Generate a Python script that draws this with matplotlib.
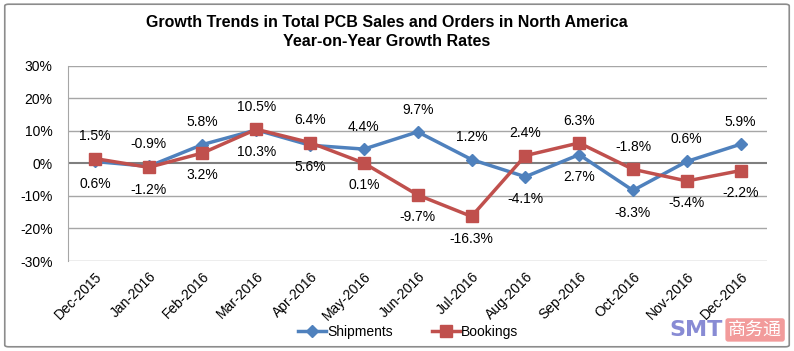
import matplotlib.pyplot as plt
from matplotlib.patches import FancyBboxPatch

plt.rcParams['font.family'] = ['Liberation Sans', 'DejaVu Sans']

months = ['Dec-2015', 'Jan-2016', 'Feb-2016', 'Mar-2016', 'Apr-2016', 'May-2016', 'Jun-2016',
          'Jul-2016', 'Aug-2016', 'Sep-2016', 'Oct-2016', 'Nov-2016', 'Dec-2016']
shipments = [0.6, -0.9, 5.8, 10.3, 5.6, 4.4, 9.7, 1.2, -4.1, 2.7, -8.3, 0.6, 5.9]
bookings = [1.5, -1.2, 3.2, 10.5, 6.4, 0.1, -9.7, -16.3, 2.4, 6.3, -1.8, -5.4, -2.2]
yticks = [-30, -20, -10, 0, 10, 20, 30]

blue = '#4F81BD'
red = '#C0504D'

fig = plt.figure(figsize=(7.94, 3.51), dpi=100)
ax = fig.add_axes([0.0856, 0.2564, 0.881, 0.556])

x = list(range(len(months)))
ax.plot(x, shipments, color=blue, lw=2.5, marker='D', ms=6, label='Shipments', zorder=3)
ax.plot(x, bookings, color=red, lw=2.5, marker='s', ms=8, label='Bookings', zorder=3)

# labels: larger value above, smaller below
for i in x:
    s, b = shipments[i], bookings[i]
    for v, other in ((s, b), (b, s)):
        up = v > other
        ax.annotate(f'{v:.1f}%', (i, v), xytext=(0, 11 if up else -11),
                    textcoords='offset points', ha='center',
                    va='bottom' if up else 'top', fontsize=10, zorder=4)

ax.set_xlim(-0.5, len(months) - 0.5)
ax.set_ylim(-30, 30)
ax.set_yticks(yticks)
ax.set_yticklabels([f'{t}%' for t in yticks], fontsize=10)
ax.set_xticks(x)
ax.set_xticklabels(months, rotation=45, ha='right', rotation_mode='anchor', fontsize=10)
ax.tick_params(axis='x', length=0, pad=6)
ax.tick_params(axis='y', length=0, pad=11)
for t in yticks:
    ax.axhline(t, color='#7f7f7f' if t == 0 else '#a6a6a6', lw=1.5 if t == 0 else 1, zorder=1)
for sp in ['top', 'right', 'bottom']:
    ax.spines[sp].set_visible(False)
ax.spines['left'].set_color('#a6a6a6')

fig.text(0.487, 0.935, 'Growth Trends in Total PCB Sales and Orders in North America',
         ha='center', va='center', fontsize=11.5, fontweight='bold')
fig.text(0.487, 0.882, 'Year-on-Year Growth Rates', ha='center', va='center',
         fontsize=11.5, fontweight='bold')

fig.legend(loc='center', bbox_to_anchor=(0.514, 0.055), ncol=2, frameon=False,
           fontsize=10, handlelength=2.0, columnspacing=2.8, handletextpad=0.1)

# border
fig.patches.append(FancyBboxPatch((0.006, 0.012), 0.988, 0.976, boxstyle='round,pad=0,rounding_size=0.005',
                                  transform=fig.transFigure, fill=False, ec='#8c8c8c', lw=1.2))

# watermark
fig.text(0.877, 0.06, 'SMT', color='#7b7fd0', fontsize=16, fontweight='bold',
         ha='center', va='center', alpha=0.9, family=['DejaVu Sans Condensed', 'DejaVu Sans'])
fig.text(0.951, 0.06, '商务通', color='white', fontsize=13,
         family=['Noto Sans CJK SC'], ha='center', va='center',
         bbox=dict(boxstyle='round,pad=0.15', fc='#f08a8a', ec='none', alpha=0.85))

fig.savefig('out.png', dpi=100)
